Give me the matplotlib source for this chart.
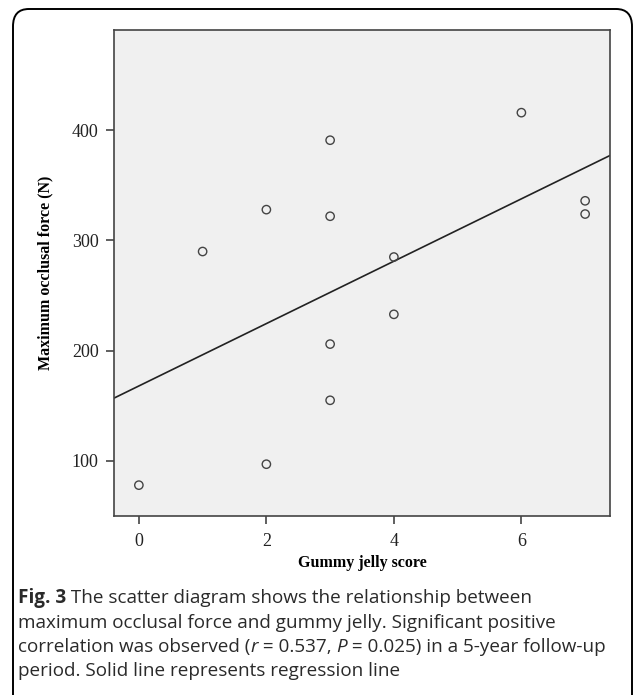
import numpy as np
import matplotlib
matplotlib.use("Agg")
import matplotlib.pyplot as plt
from matplotlib.patches import FancyBboxPatch

# data
jelly_score = [0, 1, 2, 2, 3, 3, 3, 3, 4, 4, 6, 7, 7]
max_force = [78, 290, 97, 328, 391, 322, 206, 155, 285, 233, 416, 336, 324]
# regression line (intercept, slope) as drawn
reg_intercept = 168.0
reg_slope = 28.3

x_ticks = [0, 2, 4, 6]
y_ticks = [100, 200, 300, 400]

W, H = 634, 695
fig = plt.figure(figsize=(W / 100, H / 100), dpi=100)

# rounded frame around the figure (open at the bottom)
frame = FancyBboxPatch((13 / W, -30 / H), (632 - 13) / W, (H - 9 + 30) / H,
                       boxstyle="round,pad=0,rounding_size=0.025",
                       transform=fig.transFigure, fill=False,
                       edgecolor="black", linewidth=1.4, clip_on=False)
fig.patches.append(frame)

ax = fig.add_axes([114 / W, 179 / H, 496 / W, 486 / H])
ax.set_facecolor("#f0f0f0")

ax.scatter(jelly_score, max_force, s=36, facecolors="none",
           edgecolors="#444444", linewidths=1.0, zorder=3)

ax.set_xlim(-0.39, 7.39)
ax.set_ylim(50, 491)
xx = np.array(ax.get_xlim())
ax.plot(xx, reg_intercept + reg_slope * xx, color="#222222", lw=1.2, zorder=2)

ax.set_xticks(x_ticks)
ax.set_yticks(y_ticks)
for sp in ax.spines.values():
    sp.set_color("#444444")
    sp.set_linewidth(1.2)
ax.tick_params(direction="out", length=6, width=1.2, color="#444444",
               labelsize=13)
ax.tick_params(axis="x", pad=6)
ax.tick_params(axis="y", pad=5)
for lab in ax.get_xticklabels() + ax.get_yticklabels():
    lab.set_family("Liberation Serif")
    lab.set_color("#222222")

ax.set_xlabel("Gummy jelly score", family="Liberation Serif",
              fontweight="bold", fontsize=11.5, labelpad=4)
ax.set_ylabel("Maximum occlusal force (N)", family="Liberation Serif",
              fontweight="bold", fontsize=11.5, labelpad=13)

# caption with mixed styles
cap_font = "Open Sans"
cap_size = 13.6
lines = [
    [("Fig. 3", "bold", "normal"), (" The scatter diagram shows the relationship between", "normal", "normal")],
    [("maximum occlusal force and gummy jelly. Significant positive", "normal", "normal")],
    [("correlation was observed (", "normal", "normal"), ("r", "normal", "italic"),
     (" = 0.537, ", "normal", "normal"), ("P", "normal", "italic"),
     (" = 0.025) in a 5-year follow-up", "normal", "normal")],
    [("period. Solid line represents regression line", "normal", "normal")],
]
fig.canvas.draw()
renderer = fig.canvas.get_renderer()
y0 = 598
for i, runs in enumerate(lines):
    xpix = 18
    ypix = y0 + i * 24.5
    for txt, weight, style in runs:
        t = fig.text(xpix / W, 1 - ypix / H, txt, family=cap_font,
                     fontsize=cap_size, fontweight=weight, fontstyle=style,
                     color="#2a2a2a", va="center", ha="left")
        bb = t.get_window_extent(renderer=renderer)
        xpix += bb.width

fig.savefig("out.png", dpi=100)
